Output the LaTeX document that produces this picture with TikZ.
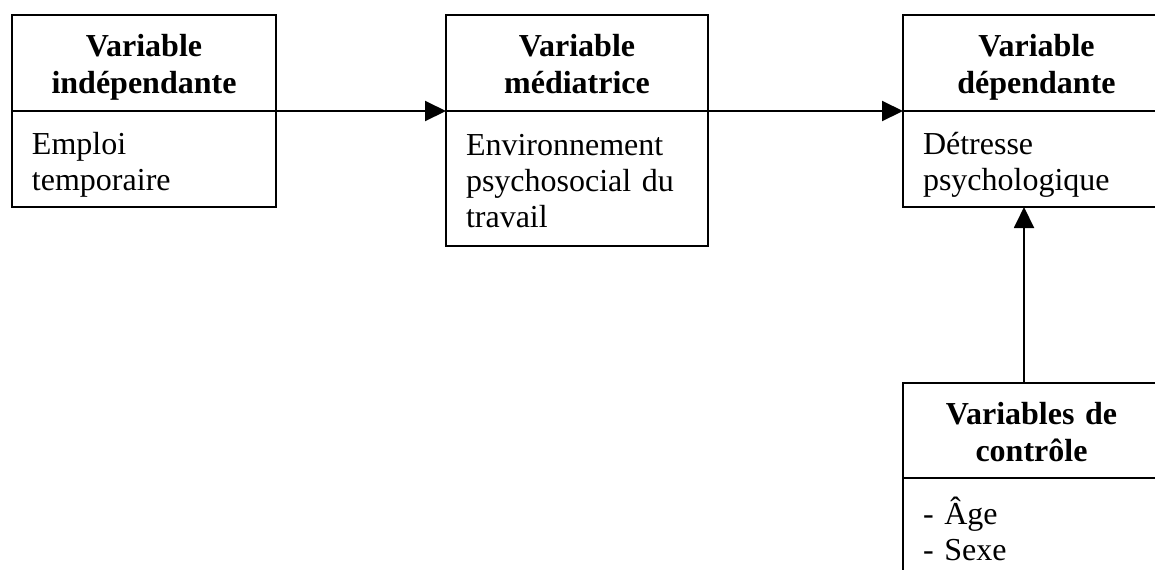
\documentclass[tikz,border=0pt]{standalone}
\usepackage{fontspec}
\setmainfont{Liberation Serif}
\usetikzlibrary{arrows.meta}
\tikzset{
	varhead/.style={draw, line width=1pt, inner sep=0pt, outer sep=0pt, anchor=north west, align=center, minimum height=48pt, font=\fontsize{16}{18.5}\selectfont\bfseries, execute at begin node={\rule{0pt}{16pt}}, execute at end node={\rule[-4pt]{0pt}{4pt}}},
	varbody/.style={draw, line width=1pt, inner xsep=10pt, inner ysep=0pt, outer sep=0pt, anchor=north west, align=left, font=\fontsize{16}{18}\selectfont, execute at begin node={\rule{0pt}{17pt}}, execute at end node={\rule[-4pt]{0pt}{4pt}}},
	fleche/.style={line width=1pt, -{Triangle[length=10.5pt,width=10pt]}}
}
\begin{document}
\begin{tikzpicture}[x=0.5pt, y=-0.5pt]
			%%%%% START %%%%%
			
			\useasboundingbox (0, 0) rectangle (1155, 569);
			\clip (0, 0) rectangle (1155, 569);
			
			\node[varhead, text width=132pt] (indhead) at (12, 15) {Variable\\indépendante};
			\node[varbody, text width=112pt, minimum height=48pt] (indbody) at (indhead.south west) {Emploi\\temporaire};
			
			\node[varhead, text width=131pt] (medhead) at (446, 15) {Variable\\médiatrice};
			\node[varbody, text width=111pt, minimum height=67.5pt] (medbody) at (medhead.south west) {Environnement\\psychosocial du\\travail};
			
			\node[varhead, text width=133.5pt] (dephead) at (903, 15) {Variable\\dépendante};
			\node[varbody, text width=113.5pt, minimum height=48pt] (depbody) at (dephead.south west) {Détresse\\psychologique};
			
			\node[varhead, text width=128.5pt, minimum height=47.5pt] (ctlhead) at (903, 383) {Variables de\\contrôle};
			\node[varbody, text width=108.5pt, minimum height=51pt] (ctlbody) at (ctlhead.south west) {- Âge\\- Sexe};
			
			\draw[fleche] (indhead.south east) -- (medhead.south west);
			\draw[fleche] (medhead.south east) -- (dephead.south west);
			
			\coordinate (ctltop) at ([xshift=60.5pt]ctlhead.north west);
			\draw[fleche] (ctltop) -- (ctltop |- depbody.south);
			
			%%%%% END %%%%%
\end{tikzpicture}
\end{document}
